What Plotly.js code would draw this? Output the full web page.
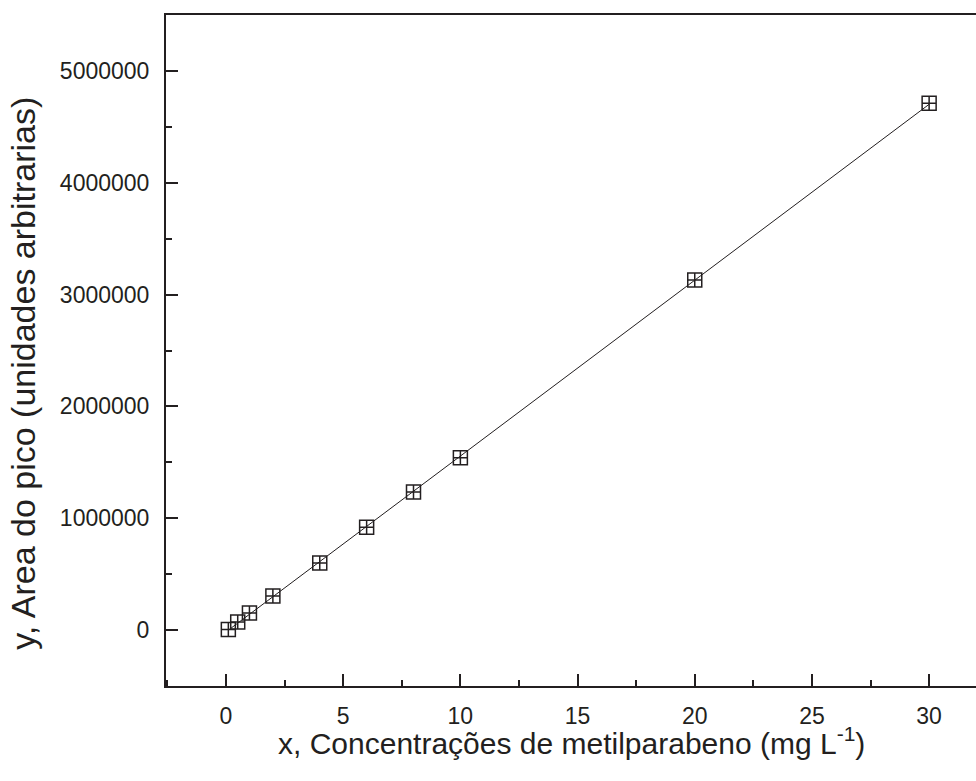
<!DOCTYPE html>
<html>
<head>
<meta charset="utf-8">
<script src="https://cdn.plot.ly/plotly-3.0.1.min.js"></script>
<style>
  html, body { margin: 0; padding: 0; background: #fff; overflow: hidden; }
  #chart { width: 976px; height: 781px; }
</style>
</head>
<body>
<div id="chart"></div>
<script>
// Calibration standards: concentration (mg/L) and measured peak area
const concentrations = [0.1, 0.5, 1, 2, 4, 6, 8, 10, 20, 30];
const peakAreas = [5000, 72000, 152000, 304000, 600000, 920000, 1235000, 1540000, 3130000, 4710000];

// Axis ranges and tick steps
const xRange = [-2.56, 32.0];
const yRange = [-500000, 5500000];
const xMajorStep = 5, xMinorStep = 2.5;
const yMajorStep = 1000000, yMinorStep = 500000;

// Least-squares calibration line through the standards
function linearFit(xs, ys) {
  const n = xs.length;
  const mx = xs.reduce((a, b) => a + b, 0) / n;
  const my = ys.reduce((a, b) => a + b, 0) / n;
  let sxy = 0, sxx = 0;
  for (let i = 0; i < n; i++) {
    sxy += (xs[i] - mx) * (ys[i] - my);
    sxx += (xs[i] - mx) * (xs[i] - mx);
  }
  const slope = sxy / sxx;
  return { slope, intercept: my - slope * mx };
}
const fit = linearFit(concentrations, peakAreas);
const fitX = [Math.min(...concentrations), Math.max(...concentrations)];
const fitY = fitX.map(x => fit.intercept + fit.slope * x);

const ink = '#231f20';
const family = 'Liberation Sans, Arial, sans-serif';

const traces = [
  {
    x: fitX, y: fitY, type: 'scatter', mode: 'lines',
    line: { color: ink, width: 1 },
    hoverinfo: 'skip', showlegend: false
  },
  {
    x: concentrations, y: peakAreas, type: 'scatter', mode: 'markers',
    marker: { symbol: 'square-cross-open', size: 14, color: ink, line: { width: 1.5, color: ink } },
    showlegend: false
  }
];

// Minor tick axes overlaid on the main ones (short inward ticks, no labels)
const minorAxis = (range, step) => ({
  range: range, tickmode: 'linear', tick0: 0, dtick: step,
  ticks: 'inside', ticklen: 6, tickwidth: 2, tickcolor: ink,
  showticklabels: false, showline: false, showgrid: false, zeroline: false
});

const layout = {
  width: 976, height: 781,
  margin: { l: 166, r: 0, t: 15, b: 95 },
  paper_bgcolor: '#fff', plot_bgcolor: '#fff',
  font: { family: family, color: ink, size: 23 },
  xaxis: {
    range: xRange,
    tickmode: 'linear', tick0: 0, dtick: xMajorStep,
    ticks: 'inside', ticklen: 12, tickwidth: 2, tickcolor: ink,
    showline: true, linewidth: 2, linecolor: ink, mirror: true,
    showgrid: false, zeroline: false,
    tickfont: { size: 23, family: family, color: ink },
    ticklabelstandoff: 8
  },
  xaxis2: Object.assign(minorAxis(xRange, xMinorStep), { overlaying: 'x', side: 'bottom', anchor: 'y' }),
  yaxis: {
    range: yRange,
    tickmode: 'linear', tick0: 0, dtick: yMajorStep, tickformat: 'd',
    ticks: 'inside', ticklen: 12, tickwidth: 2, tickcolor: ink,
    showline: true, linewidth: 2, linecolor: ink, mirror: false,
    showgrid: false, zeroline: false,
    tickfont: { size: 23, family: family, color: ink },
    ticklabelstandoff: 10
  },
  yaxis2: Object.assign(minorAxis(yRange, yMinorStep), { overlaying: 'y', side: 'left', anchor: 'x' }),
  annotations: [
    {
      text: 'x, Concentrações de metilparabeno (mg L<sup>-1</sup>)',
      xref: 'paper', yref: 'paper',
      x: 0.5, y: -0.082,
      xanchor: 'center', yanchor: 'middle',
      showarrow: false,
      font: { size: 30, family: family, color: ink }
    },
    {
      text: 'y, Area do pico (unidades arbitrarias)',
      textangle: -90,
      xref: 'paper', yref: 'paper',
      x: -0.176, y: 0.466,
      xanchor: 'center', yanchor: 'middle',
      showarrow: false,
      font: { size: 34, family: family, color: ink }
    }
  ]
};

// An invisible trace keeps the minor-tick axes drawn
traces.push({ x: [], y: [], xaxis: 'x2', yaxis: 'y2', type: 'scatter', showlegend: false, hoverinfo: 'skip' });

Plotly.newPlot('chart', traces, layout, { displayModeBar: false, staticPlot: true });
</script>
</body>
</html>
